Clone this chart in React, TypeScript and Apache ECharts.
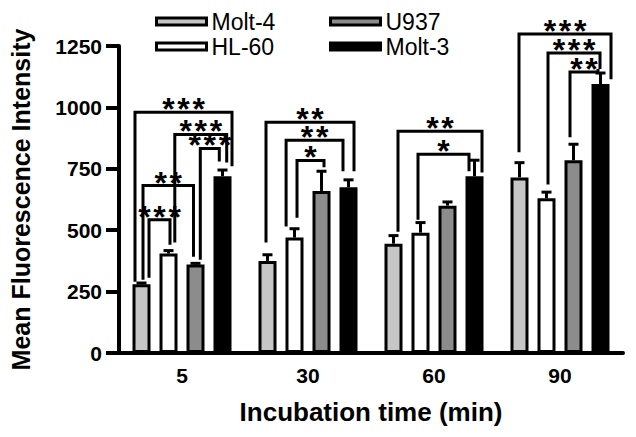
import React, { useEffect, useRef } from 'react';
import * as echarts from 'echarts';

const categories = ['5', '30', '60', '90'];
const seriesNames = ['Molt-4', 'HL-60', 'U937', 'Molt-3'];
const molt4 = [280, 375, 445, 715];
const hl60 = [405, 470, 490, 630];
const u937 = [360, 660, 600, 785];
const molt3 = [720, 675, 720, 1095];
const molt4Err = [5, 25, 33, 60];
const hl60Err = [12, 36, 41, 25];
const u937Err = [5, 80, 15, 65];
const molt3Err = [25, 30, 65, 45];
const yMax = 1250;
const yInterval = 250;

// significance brackets: [category, barA, barB, level, legEndA, legEndB, stars]
const brackets = [
  [0, 0, 3, 980, 290, 760, 3],
  [0, 1, 3, 890, 450, 776, 3],
  [0, 2, 3, 833, 380, 780, 3],
  [0, 0, 2, 682, 298, 392, 2],
  [0, 0, 1, 543, 306, 441, 3],
  [1, 0, 3, 940, 450, 740, 2],
  [1, 1, 3, 866, 515, 740, 2],
  [1, 1, 2, 784, 551, 756, 1],
  [2, 0, 3, 903, 494, 735, 2],
  [2, 1, 3, 809, 543, 740, 1],
  [3, 0, 3, 1299, 817, 1115, 3],
  [3, 1, 3, 1221, 686, 1156, 3],
  [3, 2, 3, 1144, 878, 1156, 2],
];
// horizontal shift (px) of each bracket leg from its bar centre
const bracketLegShift = [
  [-6.5, 9.5], [6.3, 4.2], [4.8, -3.2], [1.5, -2], [7.5, 1.5],
  [-1.5, 5.5], [-8.4, -5.5], [2.5, 2.5],
  [4.5, 7.5], [-2.5, -5.5],
  [-0.5, 10.5], [1.5, -0.5], [-3.5, -2.5],
];

const FONT = '"Liberation Sans", Arial, Helvetica, sans-serif';
const BAR_W = 18;
const BAR_GAP = 9;
const barOffset = (i: number) => (i - 1.5) * (BAR_W + BAR_GAP);
const STAR_DY = -3;

const values = [molt4, hl60, u937, molt3];
const errors = [molt4Err, hl60Err, u937Err, molt3Err];
const fills = ['#c6c6c6', '#ffffff', '#8c8c8c', '#000000'];

export default function App() {
  const ref = useRef<HTMLDivElement>(null);
  useEffect(() => {
    if (!ref.current) return;
    const chart = echarts.init(ref.current, null, { renderer: 'svg' });

    const barSeries = seriesNames.map((name, i) => ({
      name,
      type: 'bar',
      data: values[i],
      barWidth: BAR_W,
      barGap: `${(BAR_GAP / BAR_W) * 100}%`,
      itemStyle: { color: fills[i], borderColor: '#000', borderWidth: 3 },
      z: 2,
    }));

    const errSeries = seriesNames.map((name, i) => ({
      type: 'custom',
      name: name + '-err',
      clip: false,
      z: 3,
      data: values[i].map((v, c) => [c, v, errors[i][c]]),
      encode: { x: 0, y: 1 },
      renderItem: (params: any, api: any) => {
        const c = api.value(0);
        const v = api.value(1);
        const e = api.value(2);
        const p0 = api.coord([c, v]);
        const p1 = api.coord([c, v + e]);
        const x = p0[0] + barOffset(i);
        return {
          type: 'group',
          children: [
            { type: 'line', shape: { x1: x, y1: p0[1], x2: x, y2: p1[1] }, style: { stroke: '#000', lineWidth: 3 } },
            { type: 'line', shape: { x1: x - 5, y1: p1[1], x2: x + 5, y2: p1[1] }, style: { stroke: '#000', lineWidth: 3 } },
          ],
        };
      },
    }));

    const bracketSeries = {
      type: 'custom',
      name: 'brackets',
      clip: false,
      z: 4,
      data: brackets.map((b) => [b[0], b[3]]),
      encode: { x: 0, y: 1 },
      renderItem: (params: any, api: any) => {
        const b = brackets[params.dataIndex];
        const [cat, barA, barB, level, endA, endB, stars] = b;
        const [sa, sb] = bracketLegShift[params.dataIndex];
        const base = api.coord([cat, 0])[0];
        const xa = base + barOffset(barA) + sa;
        const xb = base + barOffset(barB) + sb;
        const yTop = api.coord([cat, level])[1];
        const ya = api.coord([cat, endA])[1];
        const yb = api.coord([cat, endB])[1];
        const cx = (xa + xb) / 2;
        const starText = new Array(stars).fill('*').join('\u200A');
        return {
          type: 'group',
          children: [
            {
              type: 'polyline',
              shape: { points: [[xa, ya], [xa, yTop], [xb, yTop], [xb, yb]] },
              style: { stroke: '#000', lineWidth: 3, fill: 'none', lineJoin: 'miter' },
            },
            {
              type: 'text',
              x: cx,
              y: yTop + STAR_DY,
              style: {
                text: starText,
                font: `bold 32px ${FONT}`,
                lineHeight: 12,
                fill: '#000',
                align: 'center',
                verticalAlign: 'middle',
              },
            },
          ],
        };
      },
    };

    const legendBase = {
      orient: 'vertical',
      top: 5,
      itemWidth: 50,
      itemHeight: 7,
      itemGap: 2,
      icon: 'rect',
      itemStyle: { borderColor: '#000', borderWidth: 3 },
      textStyle: { fontSize: 23, fontFamily: FONT, color: '#000' },
    };

    chart.setOption({
      animation: false,
      backgroundColor: '#fff',
      grid: { left: 117, right: 13, top: 46, bottom: 84 },
      legend: [
        { ...legendBase, left: 150, data: ['Molt-4', 'HL-60'] },
        { ...legendBase, left: 324, data: ['U937', 'Molt-3'] },
      ],
      xAxis: {
        type: 'category',
        data: categories,
        name: 'Incubation time (min)',
        nameLocation: 'middle',
        nameGap: 46,
        nameTextStyle: { fontSize: 26, fontWeight: 'bold', fontFamily: FONT, color: '#000' },
        axisLine: { lineStyle: { color: '#000', width: 4 } },
        axisTick: { alignWithLabel: true, length: 10, lineStyle: { color: '#000', width: 4 } },
        axisLabel: { margin: 12, fontSize: 21, fontWeight: 'bold', fontFamily: FONT, color: '#000' },
      },
      yAxis: {
        type: 'value',
        min: 0,
        max: yMax,
        interval: yInterval,
        name: 'Mean Fluorescence Intensity',
        nameLocation: 'middle',
        nameGap: 86,
        nameTextStyle: { fontSize: 25, fontWeight: 'bold', fontFamily: FONT, color: '#000' },
        splitLine: { show: false },
        axisLine: { show: true, lineStyle: { color: '#000', width: 4 } },
        axisTick: { show: true, length: 13, lineStyle: { color: '#000', width: 4 } },
        axisLabel: {
          margin: 17,
          fontSize: 21,
          fontWeight: 'bold',
          fontFamily: FONT,
          color: '#000',
          formatter: (v: number) => String(v),
        },
      },
      series: [...barSeries, ...errSeries, bracketSeries],
    });
    return () => chart.dispose();
  }, []);
  return <div ref={ref} style={{ position: 'fixed', left: 0, top: 0, width: 636, height: 437 }} />;
}
